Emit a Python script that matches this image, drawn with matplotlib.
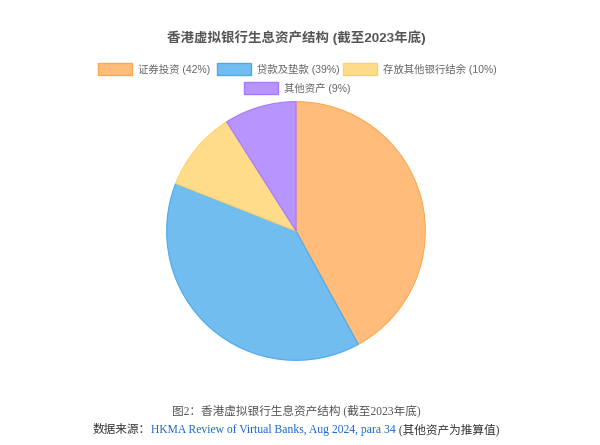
import matplotlib
matplotlib.use("Agg")
import matplotlib.pyplot as plt
from matplotlib.patches import Rectangle

plt.rcParams['font.family'] = ['Liberation Sans', 'Noto Sans CJK SC']

#%% data
labels = ["证券投资 (42%)", "贷款及垫款 (39%)", "存放其他银行结余 (10%)", "其他资产 (9%)"]
values = [42, 39, 10, 9]
fills = ["#FFBC7A", "#72BDF0", "#FFDC89", "#B894FF"]
edges = ["#FFA850", "#4AAAEC", "#FFD36A", "#A57AFF"]
title = "香港虚拟银行生息资产结构 (截至2023年底)"
caption = "图2：香港虚拟银行生息资产结构 (截至2023年底)"
source_pre = "数据来源："
source_link = "HKMA Review of Virtual Banks, Aug 2024, para 34"
source_post = " (其他资产为推算值)"

W, H = 600, 445
fig = plt.figure(figsize=(6, 4.45), dpi=100)

#%% pie
r = 130
cx, cy = 296, 231
ax = fig.add_axes([(cx - r) / W, (H - cy - r) / H, 2 * r / W, 2 * r / H])
wedges, _ = ax.pie(values, colors=fills, startangle=90, counterclock=False,
                   wedgeprops=dict(linewidth=0.8))
for w, e in zip(wedges, edges):
    w.set_edgecolor(e)
ax.set_xlim(-1.005, 1.005)
ax.set_ylim(-1.005, 1.005)
ax.set_aspect("equal")

#%% title
fig.text(296 / W, 1 - 38 / H, title, ha="center", va="center",
         fontsize=9.7, fontweight="bold", color="#555555")

#%% legend (manual, chart.js style)
rows = [[(98, 0), (217, 1), (343, 2)], [(244, 3)]]
row_y = [69, 88]
for row, yy in zip(rows, row_y):
    for x0, i in row:
        fig.patches.append(Rectangle((x0 / W, 1 - (yy + 5.5) / H), 34 / W, 11 / H,
                                     transform=fig.transFigure, facecolor=fills[i],
                                     edgecolor=edges[i], linewidth=1))
        fig.text((x0 + 40) / W, 1 - yy / H, labels[i], ha="left", va="center",
                 fontsize=7.5, color="#666666")

#%% captions
serif = ['Liberation Serif', 'Noto Sans CJK SC']
fig.text(296 / W, 1 - 414 / H, caption, ha="center", va="baseline",
         fontsize=8.4, color="#555555", family=serif)

t1 = fig.text(0, 1 - 433 / H, source_pre, ha="left", va="baseline", fontsize=8.4,
              color="#333333", family=serif)
t2 = fig.text(0, 1 - 433 / H, source_link, ha="left", va="baseline", fontsize=8.4,
              color="#1a66cc", family=serif)
t3 = fig.text(0, 1 - 433 / H, source_post, ha="left", va="baseline", fontsize=8.4,
              color="#333333", family=serif)
fig.canvas.draw()
rend = fig.canvas.get_renderer()
ws = [t.get_window_extent(rend).width for t in (t1, t2, t3)]
x = 296 - sum(ws) / 2
for t, wd in zip((t1, t2, t3), ws):
    t.set_x(x / W)
    x += wd

fig.savefig("out.png", dpi=100)
